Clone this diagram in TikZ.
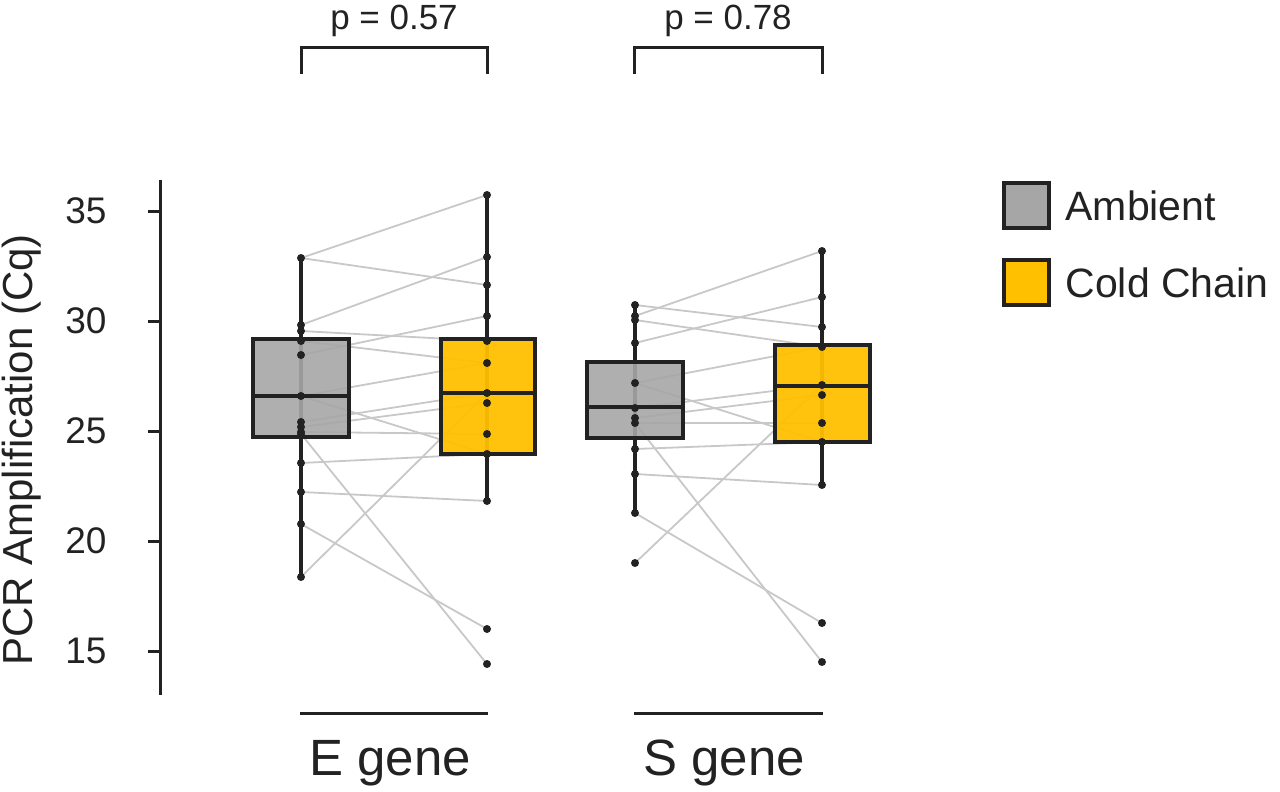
\documentclass[tikz,border=0pt]{standalone}
\usepackage{fontspec}
\setmainfont{Liberation Sans}
\definecolor{ambgray}{HTML}{A6A6A6}
\definecolor{coldgold}{HTML}{FFC000}
\definecolor{pairline}{HTML}{C8C8C8}
\definecolor{ink}{HTML}{222222}

\begin{document}
\begin{tikzpicture}[x=1pt, y=-1pt,
  whisker/.style={ink, line width=4pt},
  box/.style={draw=ink, line width=3.5pt},
  pair/.style={pairline, line width=1.8pt},
  dot/.style={circle, fill=ink, inner sep=0pt, minimum size=8pt},
  tick/.style={font=\fontsize{37}{40}\selectfont, anchor=east, text=ink},
  grouplab/.style={font=\fontsize{51}{55}\selectfont, text=ink},
  plab/.style={font=\fontsize{35}{38}\selectfont, text=ink, inner sep=1pt},
  leglab/.style={font=\fontsize{41}{45}\selectfont, anchor=west, text=ink}]
\useasboundingbox (0,0) rectangle (1280,792);

% axes
\draw[ink, line width=3pt] (160,180) -- (160,695);
\foreach \v/\yy in {35/211, 30/321, 25/431, 20/541, 15/651} {
  \draw[ink, line width=3pt] (148,\yy) -- (160,\yy);
  \node[tick] at (110,\yy) {\v};
}
\node[font=\fontsize{42}{46}\selectfont, rotate=90, text=ink] (ylab) at (22,450) {PCR Amplification (Cq)};

% paired lines
\foreach \a/\c in {258/195, 258/285, 325/257, 331/341, 341/363, 355/316, 396/363, 396/454,
                   422/393, 427/403, 432/434, 434/664, 463/454, 492/501, 524/629, 577/393}
  \draw[pair] (301,\a) -- (487,\c);
\foreach \a/\c in {305/327, 316/251, 320/347, 343/297, 383/347, 383/442, 408/385, 418/395,
                   423/423, 423/662, 449/442, 474/485, 513/623, 563/385}
  \draw[pair] (635,\a) -- (822,\c);

% boxes, E gene
\draw[whisker] (301,258) -- (301,577);
\draw[box, fill=ambgray, fill opacity=0.9] (253,339) rectangle (349,437);
\draw[box] (253,396) -- (349,396);
\draw[whisker] (487,195) -- (487,501);
\draw[box, fill=coldgold, fill opacity=0.95] (441,339) rectangle (535,454);
\draw[box] (441,393) -- (535,393);

% boxes, S gene
\draw[whisker] (635,305) -- (635,513);
\draw[box, fill=ambgray, fill opacity=0.9] (587,362) rectangle (683,438);
\draw[box] (587,407) -- (683,407);
\draw[whisker] (822,251) -- (822,485);
\draw[box, fill=coldgold, fill opacity=0.95] (775,345) rectangle (870,442);
\draw[box] (775,386) -- (870,386);

% points
\foreach \yy in {258,325,331,341,355,396,422,427,432,434,463,492,524,577}
  \node[dot] at (301,\yy) {};
\foreach \yy in {195,257,285,316,341,363,393,403,434,454,501,629,664}
  \node[dot] at (487,\yy) {};
\foreach \yy in {305,316,320,343,383,408,418,423,449,474,513,563}
  \node[dot] at (635,\yy) {};
\foreach \yy in {251,297,327,347,385,395,423,442,485,623,662}
  \node[dot] at (822,\yy) {};

% group labels
\draw[ink, line width=3pt] (300,713) -- (488,713);
\draw[ink, line width=3pt] (634,713) -- (823,713);
\node[grouplab] (egene) at (390,763) {E gene};
\node[grouplab] (sgene) at (724,763) {S gene};

% significance brackets
\draw[ink, line width=3pt] (301,74) -- (301,48) -- (487,48) -- (487,74);
\draw[ink, line width=3pt] (634,74) -- (634,48) -- (822,48) -- (822,74);
\node[plab] (pE) at (394,21) {p = 0.57};
\node[plab] (pS) at (728,21) {p = 0.78};

% legend
\draw[box, fill=ambgray] (1004,183) rectangle (1049,228);
\node[leglab] (lamb) at (1062,206) {Ambient};
\draw[box, fill=coldgold] (1004,260) rectangle (1049,305);
\node[leglab] (lcold) at (1062,283) {Cold Chain};
\end{tikzpicture}
\end{document}
